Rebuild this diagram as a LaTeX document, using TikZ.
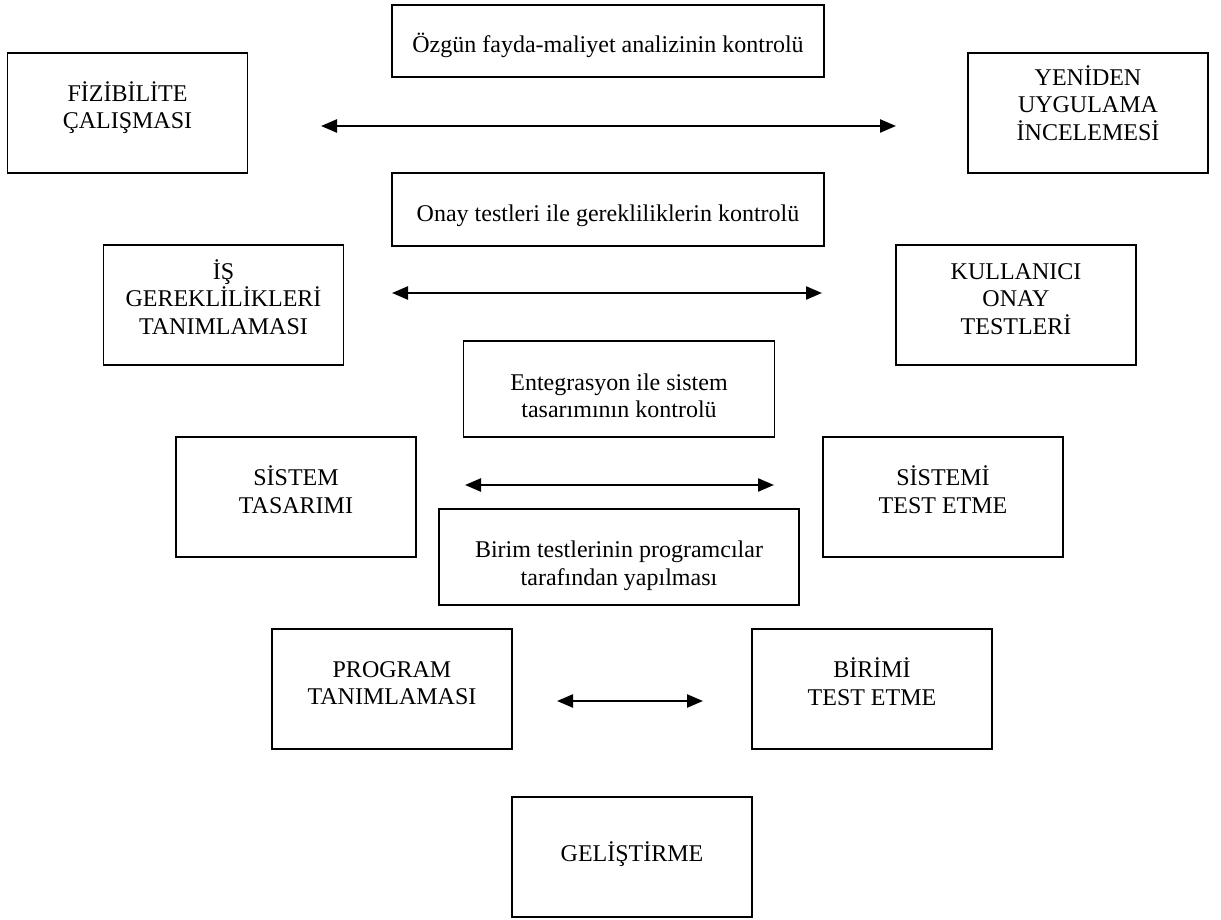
\documentclass[tikz,border=0pt]{standalone}
\usepackage{fontspec}
\setmainfont{Liberation Serif}
\usetikzlibrary{arrows.meta}
% invisible struts that move a node's text down (taller first line)
% or up (deeper last line) inside its fixed frame
\newcommand\headroom[1]{\rule{0pt}{#1}}
\newcommand\footroom[1]{\rule[-#1]{0pt}{#1}}

\begin{document}
\begin{tikzpicture}[x=1pt,y=-1pt,
  box/.style={draw, line width=1.8pt, inner sep=0pt, align=center,
    font=\fontsize{24}{27.6}\selectfont},
  big/.style={box, minimum width=240pt, minimum height=120pt},
  link/.style={line width=2.4pt, {Triangle[length=16pt,width=13pt]}-{Triangle[length=16pt,width=13pt]}}
]
\useasboundingbox (0,0) rectangle (1221,920);

% check boxes in the middle column
\node[box, minimum width=432pt, minimum height=72pt] (ozgun) at (608,41)
  {\headroom{29pt}Özgün fayda-maliyet analizinin kontrolü};
\node[box, minimum width=432pt, minimum height=73pt] (onay) at (608,209.5)
  {\headroom{30pt}Onay testleri ile gerekliliklerin kontrolü};
\node[box, minimum width=311pt, minimum height=96pt] (entegrasyon) at (619,389)
  {\headroom{30pt}Entegrasyon ile sistem\\tasarımının kontrolü};
\node[box, minimum width=360pt, minimum height=96pt] (birim) at (619,557)
  {\headroom{34pt}Birim testlerinin programcılar\\tarafından yapılması};

% development stages (left) and test stages (right)
\node[big] (fizibilite) at (127.5,113) {FİZİBİLİTE\\ÇALIŞMASI\footroom{16pt}};
\node[big] (yeniden) at (1088,113) {YENİDEN\\UYGULAMA\\İNCELEMESİ\footroom{20pt}};
\node[big] (is) at (223.5,305) {İŞ\\GEREKLİLİKLERİ\\TANIMLAMASI\footroom{16pt}};
\node[big] (kullanici) at (1016,305) {KULLANICI\\ONAY\\TESTLERİ\footroom{12pt}};
\node[big] (sistem) at (296,497) {SİSTEM\\TASARIMI\footroom{15pt}};
\node[big] (sistemtest) at (943,497) {SİSTEMİ\\TEST ETME\footroom{15pt}};
\node[big] (program) at (392,689) {PROGRAM\\TANIMLAMASI\footroom{12pt}};
\node[big] (birimtest) at (872,689) {BİRİMİ\\TEST ETME\footroom{15pt}};
\node[big] (gelistirme) at (632,857) {GELİŞTİRME\footroom{11pt}};

% arrow ends
\coordinate (a1l) at (321,126);  \coordinate (a1r) at (896,126);
\coordinate (a2l) at (392,293);  \coordinate (a2r) at (822,293);
\coordinate (a3l) at (465,485);  \coordinate (a3r) at (774,485);
\coordinate (a4l) at (557,701);  \coordinate (a4r) at (703,701);

\draw[link] (a1l) -- (a1r);
\draw[link] (a2l) -- (a2r);
\draw[link] (a3l) -- (a3r);
\draw[link] (a4l) -- (a4r);
\end{tikzpicture}
\end{document}
